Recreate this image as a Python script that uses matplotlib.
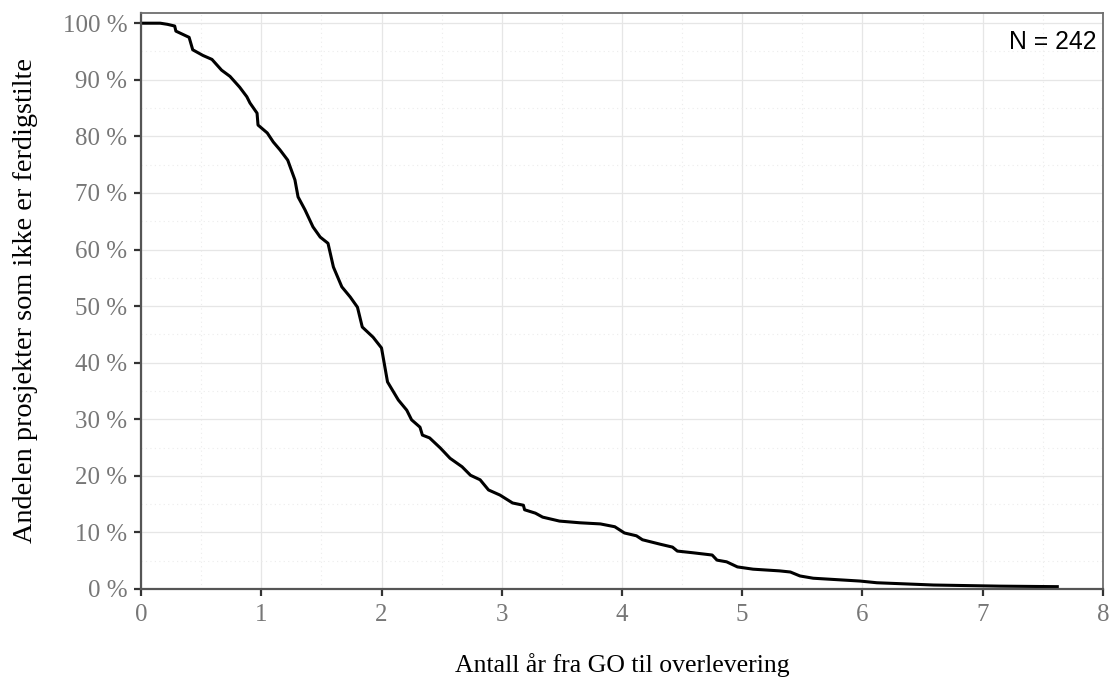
import numpy as np
import matplotlib
matplotlib.use('Agg')
import matplotlib.pyplot as plt
from matplotlib.ticker import MultipleLocator, FuncFormatter

# share of projects not yet finished
years = [0.0, 0.16, 0.22, 0.28, 0.29, 0.40, 0.43, 0.515, 0.59, 0.67, 0.74, 0.82, 0.88,
         0.906, 0.965, 0.973, 1.05, 1.10, 1.156, 1.22, 1.28, 1.306, 1.364, 1.43,
         1.49, 1.555, 1.60, 1.67, 1.74, 1.80, 1.84, 1.93, 2.0, 2.05, 2.14, 2.21,
         2.25, 2.32, 2.34, 2.40, 2.49, 2.57, 2.67, 2.74, 2.82, 2.89, 2.985, 3.09,
         3.18, 3.19, 3.28, 3.34, 3.48, 3.65, 3.82, 3.94, 4.02, 4.12, 4.17, 4.32,
         4.42, 4.46, 4.59, 4.75, 4.79, 4.87, 4.96, 5.09, 5.31, 5.40, 5.48, 5.59,
         5.98, 6.12, 6.59, 7.14, 7.62]
share = [100.0, 100.0, 99.8, 99.5, 98.6, 97.5, 95.3, 94.3, 93.6, 91.7, 90.6, 88.7, 87.0,
         85.9, 84.1, 82.0, 80.6, 79.0, 77.6, 75.8, 72.3, 69.3, 67.0, 64.0,
         62.2, 61.1, 56.9, 53.4, 51.6, 49.8, 46.3, 44.5, 42.6, 36.6, 33.4, 31.6,
         29.9, 28.6, 27.2, 26.7, 24.9, 23.1, 21.6, 20.1, 19.3, 17.5, 16.6, 15.2,
         14.8, 14.0, 13.4, 12.7, 12.0, 11.7, 11.5, 11.0, 9.9, 9.4, 8.7, 7.9,
         7.4, 6.7, 6.4, 6.0, 5.1, 4.8, 3.9, 3.5, 3.2, 3.0, 2.3, 1.9,
         1.4, 1.1, 0.7, 0.5, 0.41]
n_label = 'N = 242'

plt.rcParams['font.family'] = ['Liberation Serif', 'DejaVu Serif']

fig = plt.figure(figsize=(11.13, 6.78), dpi=100)
ax = fig.add_axes([0.1267, 0.1313, 0.991 - 0.1267, 0.9808 - 0.1313])

ax.plot(years, share, color='black', lw=2.2, solid_joinstyle='round')

ax.set_xlim(0, 8)
ax.set_ylim(0, 101.8)
ax.xaxis.set_major_locator(MultipleLocator(1))
ax.xaxis.set_minor_locator(MultipleLocator(0.5))
ax.yaxis.set_major_locator(MultipleLocator(10))
ax.yaxis.set_minor_locator(MultipleLocator(5))
ax.yaxis.set_major_formatter(FuncFormatter(lambda v, p: '{:d} %'.format(int(round(v)))))

ax.grid(which='major', color='#e6e6e6', lw=0.9)
ax.grid(which='minor', color='#ececec', lw=0.8, ls=(0, (1, 3)))
ax.set_axisbelow(True)

for side in ['top', 'right']:
    ax.spines[side].set_color('#6e6e6e')
    ax.spines[side].set_linewidth(1.3)
for side in ['left', 'bottom']:
    ax.spines[side].set_color('#555555')
    ax.spines[side].set_linewidth(1.6)

ax.tick_params(which='major', length=5, width=1.6, color='#333333',
               labelsize=18, labelcolor='#777777')
ax.tick_params(axis='y', which='major', pad=5)
ax.tick_params(axis='x', which='major', pad=6)
ax.tick_params(which='minor', length=0)

ax.set_xlabel('Antall år fra GO til overlevering', fontsize=18.5, labelpad=19.5)
ax.set_ylabel('Andelen prosjekter som ikke er ferdigstilte', fontsize=20.3, labelpad=18)

ax.text(0.993, 0.97, n_label, transform=ax.transAxes, ha='right', va='top',
        fontsize=17.8, family=['Liberation Sans', 'DejaVu Sans'])

fig.savefig('out.png', dpi=100)
